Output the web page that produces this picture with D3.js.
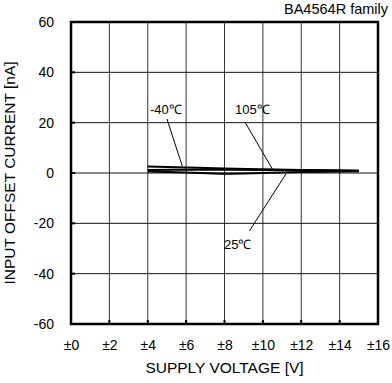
<!DOCTYPE html>
<html>
<head>
<meta charset="utf-8">
<script src="https://cdn.jsdelivr.net/npm/d3@7"></script>
<style>
  body { margin: 0; background: #fff; }
  text { font-family: "Liberation Sans", Arial, sans-serif; }
</style>
</head>
<body>
<svg id="chart_svg"></svg>
<script>
// Supply voltage points (±V)
const voltages = [4, 6, 8, 10, 12, 14, 15];
// Input offset current [nA] per temperature
const currentM40 = [2.6, 2.2, 1.8, 1.5, 1.2, 1.0, 0.9];
const current25 = [0.6, 0.2, -0.3, 0.0, 0.4, 0.6, 0.7];
const current105 = [1.2, 1.3, 1.3, 1.2, 1.1, 1.0, 0.9];
const xTicks = [0, 2, 4, 6, 8, 10, 12, 14, 16];
const yTicks = [-60, -40, -20, 0, 20, 40, 60];

const width = 392, height = 383;
const margin = { top: 22, right: 14, bottom: 59, left: 71 };

const svg = d3.select("#chart_svg")
  .attr("width", width)
  .attr("height", height);

const x = d3.scaleLinear().domain([0, 16]).range([margin.left, width - margin.right]);
const y = d3.scaleLinear().domain([-60, 60]).range([height - margin.bottom, margin.top]);

// grid
svg.append("g")
  .selectAll("line")
  .data(xTicks.slice(1, -1))
  .enter().append("line")
  .attr("x1", d => x(d)).attr("x2", d => x(d))
  .attr("y1", y(60)).attr("y2", y(-60))
  .attr("stroke", "#333").attr("stroke-width", 1);

svg.append("g")
  .selectAll("line")
  .data(yTicks.slice(1, -1))
  .enter().append("line")
  .attr("x1", x(0)).attr("x2", x(16))
  .attr("y1", d => y(d)).attr("y2", d => y(d))
  .attr("stroke", "#111").attr("stroke-width", 1);

// small inward ticks
svg.append("g")
  .selectAll("line")
  .data(yTicks)
  .enter().append("line")
  .attr("x1", x(0)).attr("x2", x(0) + 4)
  .attr("y1", d => y(d)).attr("y2", d => y(d))
  .attr("stroke", "#000").attr("stroke-width", 2);
svg.append("g")
  .selectAll("line")
  .data(xTicks)
  .enter().append("line")
  .attr("x1", d => x(d)).attr("x2", d => x(d))
  .attr("y1", y(-60)).attr("y2", y(-60) - 4)
  .attr("stroke", "#000").attr("stroke-width", 2);

// border
svg.append("rect")
  .attr("x", x(0)).attr("y", y(60))
  .attr("width", x(16) - x(0)).attr("height", y(-60) - y(60))
  .attr("fill", "none").attr("stroke", "#000").attr("stroke-width", 2.5);

// axes labels
const yAxis = d3.axisLeft(y).tickValues(yTicks).tickSize(0).tickPadding(17)
  .tickFormat(d => String(d));
svg.append("g")
  .attr("transform", `translate(${x(0)},0)`)
  .call(yAxis)
  .call(g => g.select(".domain").remove())
  .selectAll("text").attr("font-size", 14).attr("fill", "#000")
  .attr("font-family", "Liberation Sans, Arial, sans-serif");

const xAxis = d3.axisBottom(x).tickValues(xTicks).tickSize(0).tickPadding(16)
  .tickFormat(d => "±" + d);
svg.append("g")
  .attr("transform", `translate(0,${y(-60)})`)
  .call(xAxis)
  .call(g => g.select(".domain").remove())
  .selectAll("text").attr("font-size", 14).attr("fill", "#000")
  .attr("font-family", "Liberation Sans, Arial, sans-serif");

svg.append("text")
  .attr("x", (x(0) + x(16)) / 2).attr("y", 373)
  .attr("text-anchor", "middle").attr("font-size", 15.5)
  .text("SUPPLY VOLTAGE [V]");

svg.append("text")
  .attr("transform", `translate(15,${(y(60) + y(-60)) / 2}) rotate(-90)`)
  .attr("text-anchor", "middle").attr("font-size", 15.5)
  .text("INPUT OFFSET CURRENT [nA]");

svg.append("text")
  .attr("x", 388).attr("y", 14)
  .attr("text-anchor", "end").attr("font-size", 14.5)
  .text("BA4564R  family");

// curves
const line = d3.line()
  .x((d, i) => x(voltages[i]))
  .y(d => y(d))
  .curve(d3.curveMonotoneX);

[currentM40, current25, current105].forEach(s => {
  svg.append("path")
    .datum(s)
    .attr("d", line)
    .attr("fill", "none")
    .attr("stroke", "#000")
    .attr("stroke-width", 2);
});

// annotations
const notes = [
  { label: "-40℃", lx: 150, ly: 114, from: [5.0, 21.5], to: [5.8, 2.7] },
  { label: "105℃", lx: 235, ly: 114, from: [9.1, 19.8], to: [10.5, 1.5] },
  { label: "25℃", lx: 224, ly: 249, from: [9.3, -23], to: [11.2, -0.4] }
];
const ann = svg.append("g");
notes.forEach(n => {
  ann.append("line")
    .attr("x1", x(n.from[0])).attr("y1", y(n.from[1]))
    .attr("x2", x(n.to[0])).attr("y2", y(n.to[1]))
    .attr("stroke", "#000").attr("stroke-width", 1);
  ann.append("text")
    .attr("x", n.lx).attr("y", n.ly)
    .attr("font-size", 13)
    .text(n.label);
});
</script>
</body>
</html>
